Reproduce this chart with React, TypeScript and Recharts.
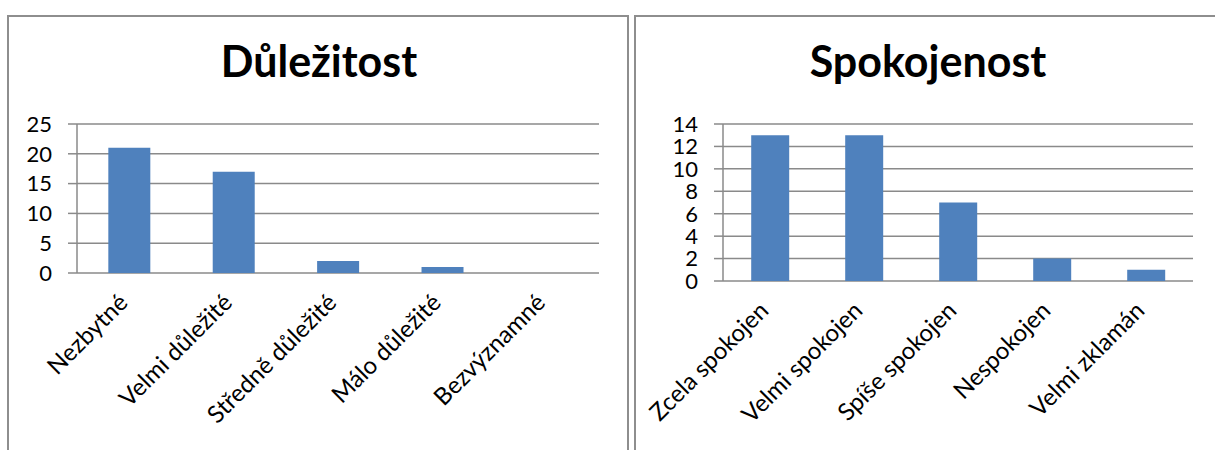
import { BarChart, Bar, XAxis, YAxis, CartesianGrid } from 'recharts';

const importanceCategories = ['Nezbytné', 'Velmi důležité', 'Středně důležité', 'Málo důležité', 'Bezvýznamné'];
const importanceValues = [21, 17, 2, 1, 0];
const importanceTicks = [0, 5, 10, 15, 20, 25];

const satisfactionCategories = ['Zcela spokojen', 'Velmi spokojen', 'Spíše spokojen', 'Nespokojen', 'Velmi zklamán'];
const satisfactionValues = [13, 13, 7, 2, 1];
const satisfactionTicks = [0, 2, 4, 6, 8, 10, 12, 14];

const FONT = 'Lato, "Open Sans", sans-serif';
const GRID = '#8a8a8a';
const BAR = '#4f81bd';

function SlantTick({ x, y, payload }: any) {
  return (
    <text
      x={x}
      y={y}
      transform={`rotate(-45 ${x} ${y})`}
      textAnchor="end"
      fontSize={24}
      fontFamily={FONT}
      fill="#000"
    >
      {payload.value}
    </text>
  );
}

interface PanelChartProps {
  categories: string[];
  values: number[];
  ticks: number[];
  width: number;
  height: number;
  yAxisWidth: number;
  marginRight: number;
  xAxisHeight: number;
}

function PanelChart({ categories, values, ticks, width, height, yAxisWidth, marginRight, xAxisHeight }: PanelChartProps) {
  const data = categories.map((name, i) => ({ name, value: values[i] }));
  const max = ticks[ticks.length - 1];
  const bounds = categories.map((_, i) => i).concat(categories.length);

  return (
    <BarChart
      width={width}
      height={height}
      data={data}
      margin={{ top: 124, right: marginRight, left: 0, bottom: 0 }}
      barCategoryGap="30%"
    >
      <CartesianGrid xAxisId="cat" vertical={false} stroke={GRID} strokeWidth={1.5} />
      <XAxis
        xAxisId="edge"
        type="number"
        domain={[0, categories.length]}
        ticks={bounds}
        height={0}
        tickSize={9}
        tickFormatter={() => ''}
        stroke={GRID}
        strokeWidth={1.5}
      />
      <XAxis
        xAxisId="cat"
        dataKey="name"
        height={xAxisHeight}
        interval={0}
        axisLine={false}
        tickLine={false}
        tickSize={0}
        tickMargin={31}
        tick={<SlantTick />}
      />
      <YAxis
        domain={[0, max]}
        ticks={ticks}
        width={yAxisWidth}
        interval={0}
        tickSize={9}
        tickMargin={16}
        stroke={GRID}
        strokeWidth={1.5}
        tick={{ fill: '#000', fontSize: 22, fontFamily: FONT }}
      />
      <Bar xAxisId="cat" dataKey="value" fill={BAR} isAnimationActive={false} />
    </BarChart>
  );
}

export default function App() {
  return (
    <div
      style={{
        position: 'absolute',
        left: 0,
        top: 0,
        width: 1215,
        height: 450,
        background: '#fff',
        overflow: 'hidden',
        fontFamily: FONT,
      }}
    >
      <div style={{ position: 'absolute', left: 7, top: 15, width: 618, height: 460, border: '2px solid #8e8e8e' }} />
      <div style={{ position: 'absolute', left: 634, top: 15, width: 620, height: 460, border: '2px solid #8e8e8e' }} />

      <div style={{ position: 'absolute', left: 0, top: 0 }}>
        <PanelChart
          categories={importanceCategories}
          values={importanceValues}
          ticks={importanceTicks}
          width={640}
          height={450}
          yAxisWidth={77}
          marginRight={41}
          xAxisHeight={177}
        />
      </div>
      <div style={{ position: 'absolute', left: 640, top: 0 }}>
        <PanelChart
          categories={satisfactionCategories}
          values={satisfactionValues}
          ticks={satisfactionTicks}
          width={575}
          height={450}
          yAxisWidth={83}
          marginRight={22}
          xAxisHeight={169}
        />
      </div>

      <svg width={1215} height={450} style={{ position: 'absolute', left: 0, top: 0, pointerEvents: 'none' }}>
        <text x={319} y={77} textAnchor="middle" fontSize={43} fontWeight={700} fontFamily={FONT} fill="#000">
          Důležitost
        </text>
        <text x={928} y={77} textAnchor="middle" fontSize={43} fontWeight={700} fontFamily={FONT} fill="#000">
          Spokojenost
        </text>
      </svg>
    </div>
  );
}
